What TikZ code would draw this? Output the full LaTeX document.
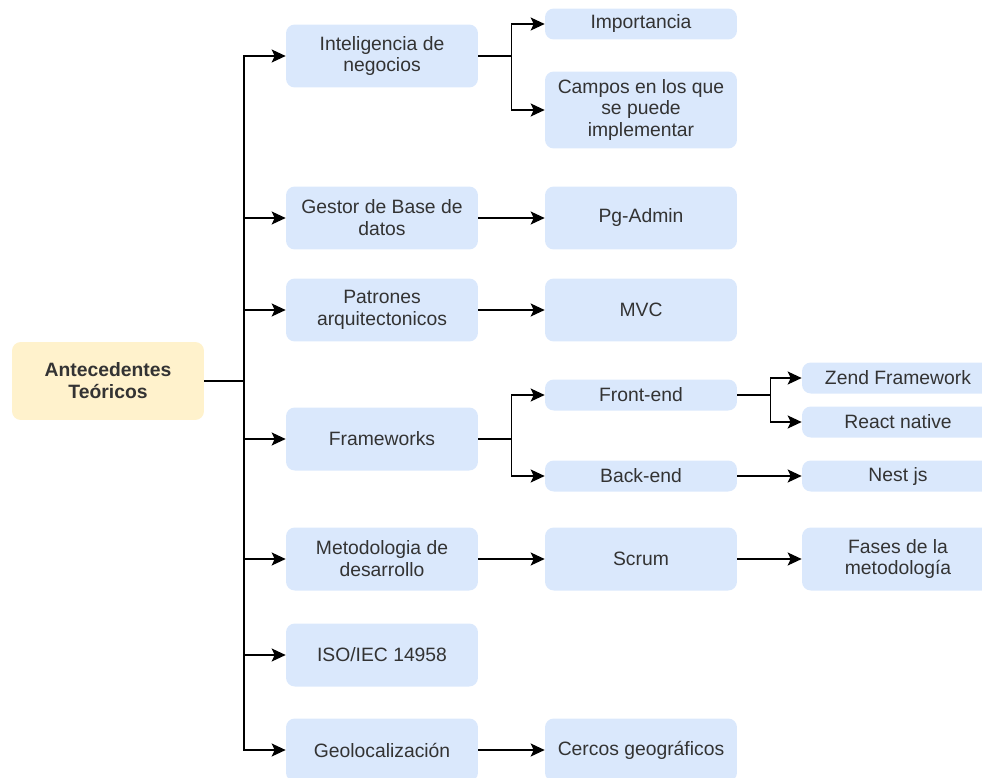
\documentclass[tikz,border=0pt]{standalone}
\usepackage{fontspec}
\setmainfont{Liberation Sans}
\usetikzlibrary{arrows.meta}
\definecolor{azul_caja}{HTML}{DAE8FC}
\definecolor{amarillo_caja}{HTML}{FFF2CC}
\definecolor{texto}{HTML}{333333}
\tikzset{
  caja/.style ={rectangle, rounded corners=5pt, fill=azul_caja, align=center,
    inner sep=0pt, minimum width=3.84cm, text=texto,
    font=\fontsize{11}{12.5}\selectfont},
  raiz/.style ={caja, fill=amarillo_caja, minimum height=1.56cm,
    font=\bfseries\fontsize{11}{12.5}\selectfont},
  alta/.style ={minimum height=1.26cm},
  baja/.style ={minimum height=0.62cm},
  flecha/.style={line width=0.85pt, -{Stealth[length=2.8mm,width=2.6mm,inset=0.6mm,fill=black]}}}

\begin{document}
\begin{tikzpicture}[x=0.02cm, y=-0.02cm]
\clip (0,0) rectangle (982,777);
\node[raiz] (ant) at (108,381) {Antecedentes\\Teóricos};
% nivel 1
\node[caja,alta] (intel)    at (382,56)  {Inteligencia de\\negocios};
\node[caja,alta] (gestor)   at (382,218) {Gestor de Base de\\datos};
\node[caja,alta] (patrones) at (382,310) {Patrones\\arquitectonicos};
\node[caja,alta] (frame)    at (382,439) {Frameworks};
\node[caja,alta] (metod)    at (382,559) {Metodologia de\\desarrollo};
\node[caja,alta] (iso)      at (382,655) {ISO/IEC 14958};
\node[caja,alta] (geo)      at (382,750) {Geolocalización};
% nivel 2
\node[caja,baja] (impor)  at (641,24)  {Importancia};
\node[caja,minimum height=1.54cm] (campos) at (641,110)
  {Campos en los que\\se puede\\implementar};
\node[caja,alta] (pgadmin) at (641,218) {Pg-Admin};
\node[caja,alta] (mvc)     at (641,310) {MVC};
\node[caja,baja] (front)   at (641,395) {Front-end};
\node[caja,baja] (back)    at (641,476) {Back-end};
\node[caja,alta] (scrum)   at (641,559) {Scrum};
\node[caja,alta] (cercos)  at (641,750) {Cercos geográficos};
% nivel 3
\node[caja,baja] (zend)  at (898,378) {Zend Framework};
\node[caja,baja] (react) at (898,422) {React native};
\node[caja,baja] (nest)  at (898,476) {Nest js};
\node[caja,alta] (fases) at (898,559) {Fases de la\\metodología};

\coordinate (tronco) at (244,381);
\foreach \n in {intel,gestor,patrones,frame,metod,iso,geo}
  \draw[flecha] (ant.east) -- (tronco) |- (\n.west);
\foreach \a/\b in {gestor/pgadmin,patrones/mvc,back/nest,metod/scrum,scrum/fases,geo/cercos}
  \draw[flecha] (\a) -- (\b);
\foreach \a/\b/\c in {intel/impor/campos,frame/front/back,front/zend/react}{
  \draw[flecha] (\a.east) -- ++(33,0) coordinate (q-\a) |- (\b.west);
  \draw[flecha] (q-\a) |- (\c.west);
}
\end{tikzpicture}
\end{document}
